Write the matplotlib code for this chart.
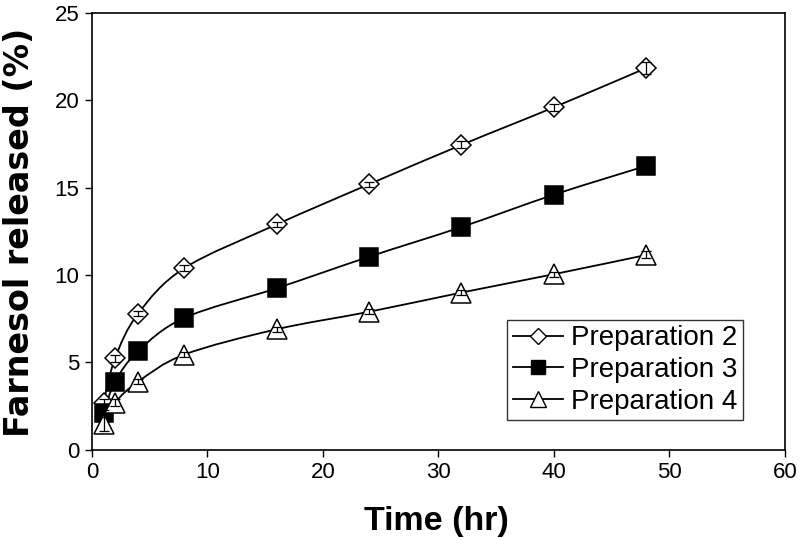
import numpy as np
import matplotlib.pyplot as plt
from matplotlib.path import Path
from matplotlib.patches import PathPatch

plt.rcParams["font.family"] = ["Liberation Sans", "DejaVu Sans"]

time_hr = [1, 2, 4, 8, 16, 24, 32, 40, 48]
prep2 = [2.7, 5.25, 7.8, 10.4, 12.9, 15.2, 17.45, 19.6, 21.85]
prep3 = [2.1, 3.9, 5.65, 7.55, 9.25, 11.05, 12.75, 14.6, 16.25]
prep4 = [1.5, 2.7, 3.9, 5.45, 6.9, 7.9, 9.0, 10.05, 11.15]
err2 = [0.2, 0.2, 0.15, 0.15, 0.15, 0.15, 0.2, 0.2, 0.35]
err3 = [0.2, 0.2, 0.15, 0.15, 0.15, 0.15, 0.15, 0.15, 0.3]
err4 = [0.4, 0.2, 0.15, 0.15, 0.15, 0.15, 0.15, 0.15, 0.2]


def smooth_path(x, y):
    # Catmull-Rom style bezier through the points (like Excel smoothed lines)
    x = np.asarray(x, float)
    y = np.asarray(y, float)
    verts = [(x[0], y[0])]
    codes = [Path.MOVETO]
    n = len(x)
    for i in range(n - 1):
        p0 = (x[i - 1], y[i - 1]) if i > 0 else (x[i], y[i])
        p1 = (x[i], y[i])
        p2 = (x[i + 1], y[i + 1])
        p3 = (x[i + 2], y[i + 2]) if i + 2 < n else (x[i + 1], y[i + 1])
        c1 = (p1[0] + (p2[0] - p0[0]) / 6, p1[1] + (p2[1] - p0[1]) / 6)
        c2 = (p2[0] - (p3[0] - p1[0]) / 6, p2[1] - (p3[1] - p1[1]) / 6)
        verts += [c1, c2, p2]
        codes += [Path.CURVE4] * 3
    return Path(verts, codes)


fig = plt.figure(figsize=(8, 5.4), dpi=100)
ax = fig.add_axes([0.115, 0.167, 0.866, 0.809])

series = [
    (prep2, err2, "D", "white", 10, "Preparation 2"),
    (prep3, err3, "s", "black", 13, "Preparation 3"),
    (prep4, err4, "^", "white", 14, "Preparation 4"),
]

for vals, err, mk, fc, ms, lab in series:
    ax.add_patch(PathPatch(smooth_path(time_hr, vals), fill=False,
                           edgecolor="black", lw=1.3, zorder=2))
    ax.plot(time_hr, vals, linestyle="none", marker=mk, markersize=ms,
            markerfacecolor=fc, markeredgecolor="black", markeredgewidth=1.1,
            zorder=3)
    ax.errorbar(time_hr, vals, yerr=err, fmt="none", ecolor="black",
                elinewidth=0.9, capsize=3.5, capthick=0.9, zorder=4)
    ax.plot([], [], color="black", lw=1.3, marker=mk, markersize=ms * 0.8,
            markerfacecolor=fc, markeredgecolor="black", label=lab)

ax.set_xlim(0, 60)
ax.set_ylim(0, 25)
ax.set_xticks(range(0, 61, 10))
ax.set_yticks(range(0, 26, 5))
ax.tick_params(direction="out", length=5, width=1, labelsize=16, pad=4)
for s in ax.spines.values():
    s.set_linewidth(1.2)

ax.set_xlabel("Time (hr)", fontsize=24.5, fontweight="bold")
ax.xaxis.set_label_coords(0.497, -0.128)
ax.set_ylabel("Farnesol released (%)", fontsize=24, fontweight="bold",
              family=["DejaVu Sans"])
ax.yaxis.set_label_coords(-0.081, 0.497)

leg = ax.legend(loc="upper left", bbox_to_anchor=(0.599, 0.2975), fontsize=20,
                frameon=True, fancybox=False, edgecolor="black",
                handlelength=1.8, handletextpad=0.3, borderpad=0.2,
                labelspacing=0.2, borderaxespad=0)
leg.get_frame().set_linewidth(1.0)

fig.savefig("out.png", dpi=100)
